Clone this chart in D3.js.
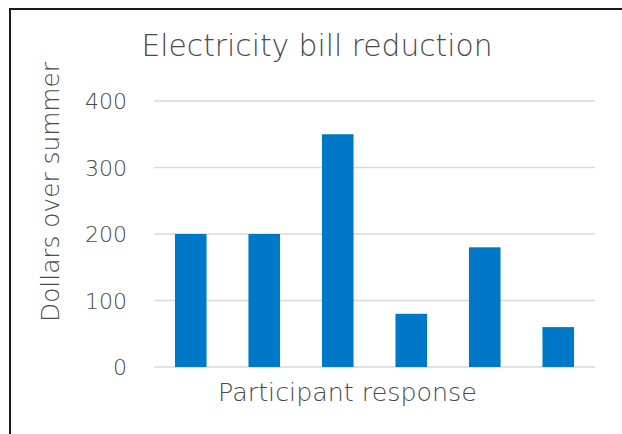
<!DOCTYPE html>
<html>
<head>
<meta charset="utf-8">
<script src="https://cdn.jsdelivr.net/npm/d3@7"></script>
<style>
  html, body { margin: 0; padding: 0; background: #fff; }
  svg { display: block; }
  text { font-family: "Century Gothic", "URW Gothic", "DejaVu Sans", sans-serif; font-weight: 200; fill: #4a4a4a; }
</style>
</head>
<body>
<svg id="chart" width="622" height="434"></svg>
<script>
// Chart data
const categories = ["R1", "R2", "R3", "R4", "R5", "R6"];
const values = [200, 200, 350, 80, 180, 60];
const yTicks = [0, 100, 200, 300, 400];
const titleText = "Electricity bill reduction";
const xTitleText = "Participant response";
const yTitleText = "Dollars over summer";

const W = 622, H = 434;
const plot = { left: 154, right: 595, top: 101, bottom: 367 };

const svg = d3.select("#chart");

// Outer chart-area frame (continues past the right and bottom edges)
svg.append("rect")
  .attr("x", 10).attr("y", 9)
  .attr("width", W + 20).attr("height", H + 20)
  .attr("fill", "#fff")
  .attr("stroke", "#1a1a1a")
  .attr("stroke-width", 2);

const x = d3.scaleBand()
  .domain(categories)
  .range([plot.left, plot.right])
  .paddingInner(0.57)
  .paddingOuter(0.285);

const y = d3.scaleLinear()
  .domain([0, 400])
  .range([plot.bottom, plot.top]);

// Gridlines
svg.append("g")
  .selectAll("line")
  .data(yTicks)
  .join("line")
  .attr("x1", plot.left).attr("x2", plot.right)
  .attr("y1", d => y(d)).attr("y2", d => y(d))
  .attr("stroke", "#d9d9d9")
  .attr("stroke-width", 1.6);

// Y axis labels via d3.axisLeft (line and ticks hidden)
const yAxis = svg.append("g")
  .attr("transform", `translate(${plot.left - 27},0)`)
  .call(d3.axisLeft(y).tickValues(yTicks).tickSize(0).tickPadding(0));
yAxis.select(".domain").remove();
yAxis.attr("font-family", null);
yAxis.selectAll("text")
  .attr("fill", "#4a4a4a")
  .attr("font-size", 22)
  .attr("dy", "0.36em");

// Bars
svg.append("g")
  .selectAll("rect")
  .data(values)
  .join("rect")
  .attr("x", (d, i) => x(categories[i]))
  .attr("y", d => y(d))
  .attr("width", x.bandwidth())
  .attr("height", d => y(0) - y(d))
  .attr("fill", "#0078c8");

// Scale a text's font-size so it spans the given width
function fit(sel, width) {
  const base = +sel.attr("font-size");
  const len = sel.node().getComputedTextLength();
  sel.attr("font-size", base * width / len);
  return sel;
}

// Chart title
fit(svg.append("text")
  .attr("x", 317).attr("y", 56)
  .attr("text-anchor", "middle")
  .attr("font-size", 25)
  .text(titleText), 351);

// X axis title
fit(svg.append("text")
  .attr("x", 347.5).attr("y", 401)
  .attr("text-anchor", "middle")
  .attr("font-size", 22)
  .text(xTitleText), 259);

// Y axis title
fit(svg.append("text")
  .attr("transform", "translate(58.5,192) rotate(-90)")
  .attr("text-anchor", "middle")
  .attr("font-size", 22)
  .text(yTitleText), 260);

// Tick labels fitted to their width as well
yAxis.selectAll("text").each(function (d) {
  const t = d3.select(this);
  fit(t, d === 0 ? 14 : 42);
});
</script>
</body>
</html>
